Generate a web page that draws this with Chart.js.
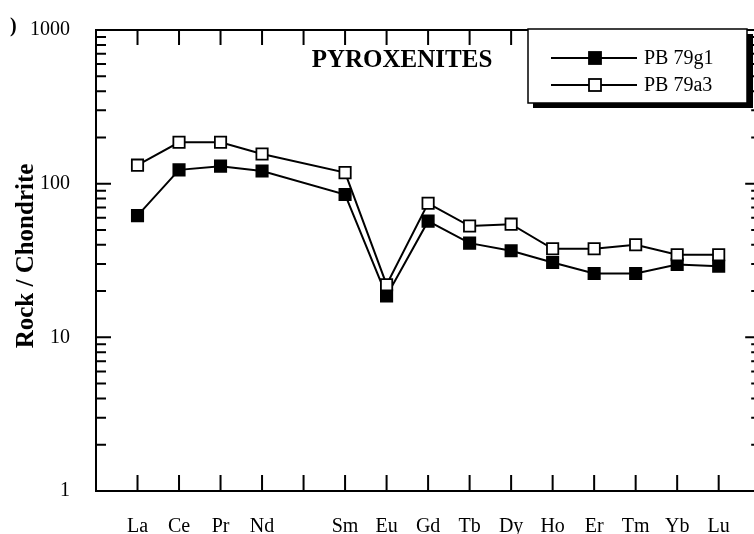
<!DOCTYPE html>
<html>
<head>
<meta charset="utf-8">
<script src="https://cdn.jsdelivr.net/npm/chart.js@4/dist/chart.umd.min.js"></script>
<style>
  html, body { margin: 0; padding: 0; background: #fff; overflow: hidden; }
  #ree-chart { display: block; }
</style>
</head>
<body>
<canvas id="ree-chart" width="770" height="534"></canvas>
<script>
// REE names, Pm left blank (no data)
const rees = ['La', 'Ce', 'Pr', 'Nd', '', 'Sm', 'Eu', 'Gd', 'Tb', 'Dy', 'Ho', 'Er', 'Tm', 'Yb', 'Lu'];
const pb79g1 = [62, 123, 130, 121, null, 85, 18.6, 57, 41, 36.6, 30.7, 26, 26, 29.8, 29];
const pb79a3 = [132, 186, 186, 156, null, 118, 22, 74.5, 53, 54.5, 37.7, 37.7, 40, 34.5, 34.5];
const yTicks = [1, 10, 100, 1000];

const serif = '"Liberation Serif", "Times New Roman", serif';

// blank slot at each end so La / Lu sit one step in from the frame
const labels = [''].concat(rees, ['']);
const pad = arr => [null].concat(arr, [null]);

// frame, inward ticks, title, axis label and boxed legend
const framePlugin = {
  id: 'frame',
  beforeDatasetsDraw(chart) {
    const ctx = chart.ctx;
    const a = chart.chartArea;
    const xs = chart.scales.x, ys = chart.scales.y;
    ctx.save();
    ctx.strokeStyle = '#000';
    ctx.lineWidth = 2;
    ctx.strokeRect(a.left, a.top, a.right - a.left, a.bottom - a.top);

    ctx.beginPath();
    for (let i = 1; i <= rees.length; i++) {
      const px = xs.getPixelForValue(i);
      ctx.moveTo(px, a.bottom); ctx.lineTo(px, a.bottom - 16);
      ctx.moveTo(px, a.top); ctx.lineTo(px, a.top + 15);
    }
    yTicks.forEach(d => {
      const py = ys.getPixelForValue(d);
      ctx.moveTo(a.left, py); ctx.lineTo(a.left + 15, py);
      ctx.moveTo(a.right, py); ctx.lineTo(a.right - 15, py);
      if (d < 1000) {
        for (let m = 2; m <= 9; m++) {
          const pm = ys.getPixelForValue(d * m);
          ctx.moveTo(a.left, pm); ctx.lineTo(a.left + 10, pm);
          ctx.moveTo(a.right, pm); ctx.lineTo(a.right - 9, pm);
        }
      }
    });
    ctx.stroke();

    ctx.fillStyle = '#000';
    ctx.font = 'bold 25px ' + serif;
    ctx.textAlign = 'center';
    ctx.textBaseline = 'alphabetic';
    ctx.fillText('PYROXENITES', 402, 67);

    ctx.save();
    ctx.translate(33, 256);
    ctx.rotate(-Math.PI / 2);
    ctx.fillText('Rock / Chondrite', 0, 0);
    ctx.restore();

    ctx.font = 'bold 20px ' + serif;
    ctx.textAlign = 'left';
    ctx.fillText(')', 10, 32);
    ctx.restore();
  },
  afterDatasetsDraw(chart) {
    const ctx = chart.ctx;
    ctx.save();
    // shadowed box
    ctx.fillStyle = '#000';
    ctx.fillRect(533, 34, 220, 74);
    ctx.fillStyle = '#fff';
    ctx.fillRect(528, 29, 219, 74);
    ctx.strokeStyle = '#000';
    ctx.lineWidth = 1.5;
    ctx.strokeRect(528, 29, 219, 74);

    const rows = [58, 85];
    chart.data.datasets.slice().sort((p, q) => p.legendRank - q.legendRank).forEach((ds, k) => {
      const y = rows[k];
      ctx.lineWidth = 2;
      ctx.beginPath();
      ctx.moveTo(551, y); ctx.lineTo(637, y);
      ctx.stroke();
      ctx.fillStyle = ds.pointBackgroundColor;
      ctx.fillRect(589, y - 6, 12, 12);
      ctx.lineWidth = 1.8;
      ctx.strokeRect(589, y - 6, 12, 12);
      ctx.fillStyle = '#000';
      ctx.font = '20px ' + serif;
      ctx.textAlign = 'left';
      ctx.textBaseline = 'middle';
      ctx.fillText(ds.label, 644, y + 1);
    });
    ctx.restore();
  }
};

const ctx = document.getElementById('ree-chart').getContext('2d');

new Chart(ctx, {
  type: 'line',
  data: {
    labels: labels,
    datasets: [{
      label: 'PB 79a3',
      data: pad(pb79a3),
      legendRank: 1,
      order: 0,
      borderColor: '#000',
      borderWidth: 2,
      pointStyle: 'rect',
      pointRadius: 8,
      pointBorderWidth: 1.8,
      pointBorderColor: '#000',
      pointBackgroundColor: '#fff',
      tension: 0,
      spanGaps: true,
      fill: false
    }, {
      label: 'PB 79g1',
      data: pad(pb79g1),
      legendRank: 0,
      order: 1,
      borderColor: '#000',
      borderWidth: 2,
      pointStyle: 'rect',
      pointRadius: 8,
      pointBorderWidth: 1.8,
      pointBorderColor: '#000',
      pointBackgroundColor: '#000',
      tension: 0,
      spanGaps: true,
      fill: false
    }]
  },
  options: {
    responsive: false,
    animation: false,
    layout: { padding: { top: 24, right: 9, left: 0, bottom: 0 } },
    plugins: {
      legend: { display: false },
      tooltip: { enabled: false }
    },
    scales: {
      x: {
        type: 'category',
        offset: false,
        grid: { display: false },
        border: { display: false },
        ticks: {
          autoSkip: false,
          maxRotation: 0,
          padding: 16,
          color: '#000',
          font: { family: serif, size: 20 }
        },
        afterFit: s => { s.height = 43; s.paddingLeft = 0; s.paddingRight = 0; }
      },
      y: {
        type: 'logarithmic',
        min: 1,
        max: 1000,
        grid: { display: false },
        border: { display: false },
        afterBuildTicks: s => { s.ticks = yTicks.map(v => ({ value: v })); },
        ticks: {
          padding: 18,
          color: '#000',
          font: { family: serif, size: 20 },
          callback: v => String(v)
        },
        afterFit: s => { s.width = 96; }
      }
    }
  },
  plugins: [framePlugin]
});
</script>
</body>
</html>
